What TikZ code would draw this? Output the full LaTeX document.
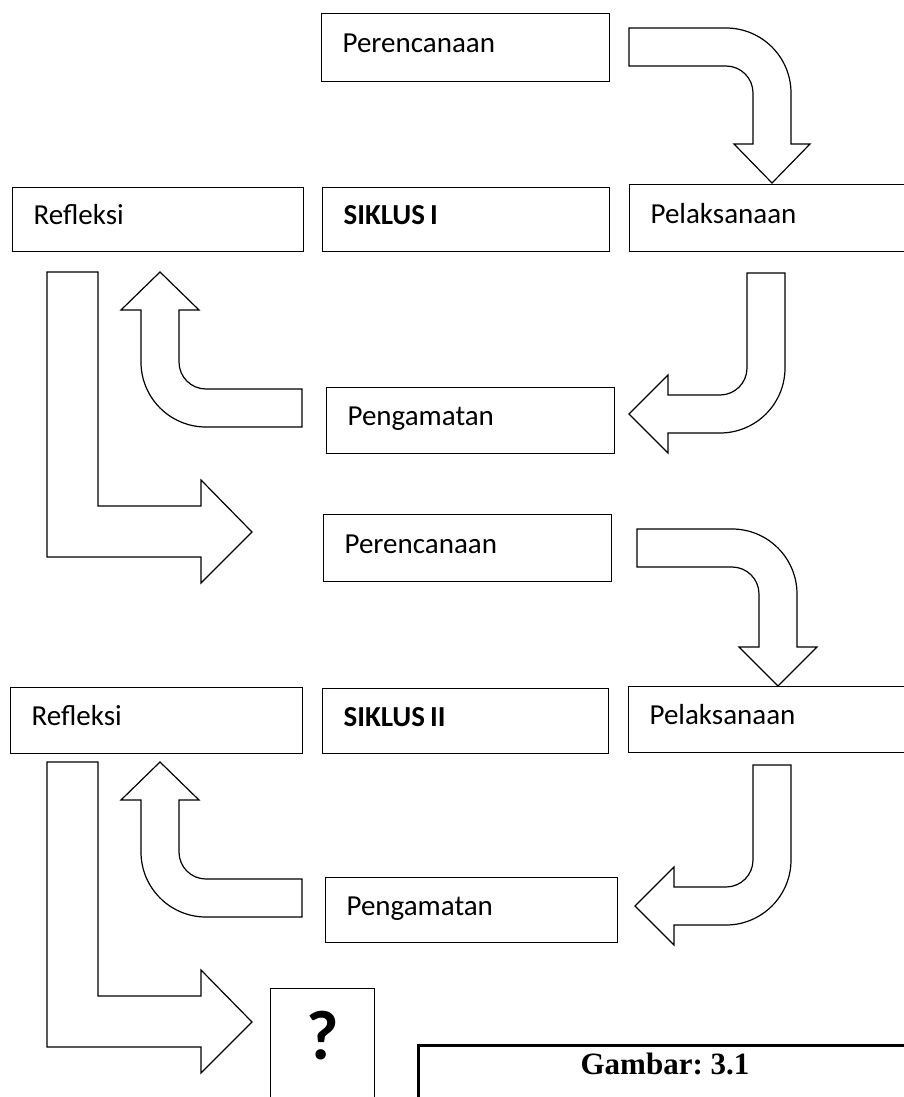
\documentclass[tikz,border=0pt]{standalone}
\usepackage{fontspec}
\setmainfont{Carlito}
\newfontfamily\gambarfont{Liberation Serif}
\newcommand\mybodyfont{\fontsize{29}{34}\selectfont\frenchspacing}
\begin{document}
\begin{tikzpicture}[x=1pt,y=-1pt,
  box/.style={draw=black, line width=1.2pt, anchor=north west, inner xsep=21pt, inner ysep=0pt,
    text height=17pt, text depth=7pt, font=\mybodyfont},
  arr/.style={draw=black, line width=1.2pt, fill=white, line join=miter}]
\clip (0,0) rectangle (904,1097);
\fill[white] (0,0) rectangle (904,1097);

% ---------- cycle I ----------
\node[box, text width=246pt, minimum height=68pt] (per1) at (321,13) {Perencanaan};
\node[box, text width=259pt, minimum height=67pt] (pel1) at (629,184) {Pelaksanaan};
\node[box, text width=249pt, minimum height=64pt] (ref1) at (12,187) {Refleksi};
\node[box, text width=245pt, minimum height=64pt] (sik1) at (322,187) {\bfseries SIKLUS\hspace{5pt}I};
\node[box, text width=246pt, minimum height=66pt] (pen1) at (326,387) {Pengamatan};

% curved arrow Perencanaan -> Pelaksanaan
\draw[arr] (629,28) -- (726,28) arc[start angle=-90,end angle=0,radius=65]
  -- (791,144) -- (810,144) -- (772,183) -- (734,144) -- (753,144) -- (753,93)
  arc[start angle=0,end angle=-90,radius=27] -- (629,66) -- cycle;
% curved arrow Pelaksanaan -> Pengamatan
\draw[arr] (747,273) -- (785,273) -- (785,368) arc[start angle=0,end angle=90,radius=65]
  -- (668,433) -- (668,453) -- (629,414) -- (668,375) -- (668,395) -- (720,395)
  arc[start angle=90,end angle=0,radius=27] -- cycle;
% curved arrow Pengamatan -> Refleksi
\draw[arr] (302,389) -- (206,389) arc[start angle=90,end angle=180,radius=27]
  -- (179,310) -- (199,310) -- (160,272) -- (121,310) -- (141,310) -- (141,362)
  arc[start angle=180,end angle=90,radius=65] -- (302,427) -- cycle;
% L arrow Refleksi -> Perencanaan II
\draw[arr] (47,272) -- (98,272) -- (98,506) -- (201,506) -- (201,480) -- (252,532)
  -- (201,583) -- (201,557) -- (47,557) -- cycle;

% ---------- cycle II ----------
\node[box, text width=246pt, minimum height=67pt] (per2) at (323,514) {Perencanaan};
\node[box, text width=260pt, minimum height=66pt] (pel2) at (628,686) {Pelaksanaan};
\node[box, text width=250pt, minimum height=66pt] (ref2) at (10,687) {Refleksi};
\node[box, text width=244pt, minimum height=65pt] (sik2) at (322,688) {\bfseries SIKLUS\hspace{5pt}II};
\node[box, text width=250pt, minimum height=65pt] (pen2) at (325,877) {Pengamatan};

\draw[arr] (637,529) -- (732,529) arc[start angle=-90,end angle=0,radius=65]
  -- (797,647) -- (817,647) -- (778,686) -- (739,647) -- (759,647) -- (759,594)
  arc[start angle=0,end angle=-90,radius=27] -- (637,567) -- cycle;
\draw[arr] (753,765) -- (791,765) -- (791,860) arc[start angle=0,end angle=90,radius=65]
  -- (674,925) -- (674,945) -- (635,906) -- (674,867) -- (674,887) -- (726,887)
  arc[start angle=90,end angle=0,radius=27] -- cycle;
\draw[arr] (302,879) -- (206,879) arc[start angle=90,end angle=180,radius=27]
  -- (179,800) -- (199,800) -- (160,762) -- (121,800) -- (141,800) -- (141,852)
  arc[start angle=180,end angle=90,radius=65] -- (302,917) -- cycle;
\draw[arr] (47,762) -- (98,762) -- (98,996) -- (201,996) -- (201,970) -- (252,1022)
  -- (201,1073) -- (201,1047) -- (47,1047) -- cycle;

% ---------- bottom ----------
\node[draw=black, line width=1.2pt, anchor=north west, minimum width=104pt, minimum height=130pt, inner sep=0pt] (q) at (270,988) {};
\node[anchor=base, inner sep=0pt, font=\fontsize{70}{74}\selectfont\bfseries] (qm) at (323,1059) {?};
\node[draw=black, line width=2.5pt, anchor=north west, minimum width=520pt, minimum height=80pt, inner sep=0pt] (g) at (417,1044) {};
\node[anchor=base, inner sep=0pt, font=\gambarfont\fontsize{31}{34}\selectfont\bfseries\frenchspacing] (gt) at (665,1074) {Gambar: 3.1};
\end{tikzpicture}
\end{document}
